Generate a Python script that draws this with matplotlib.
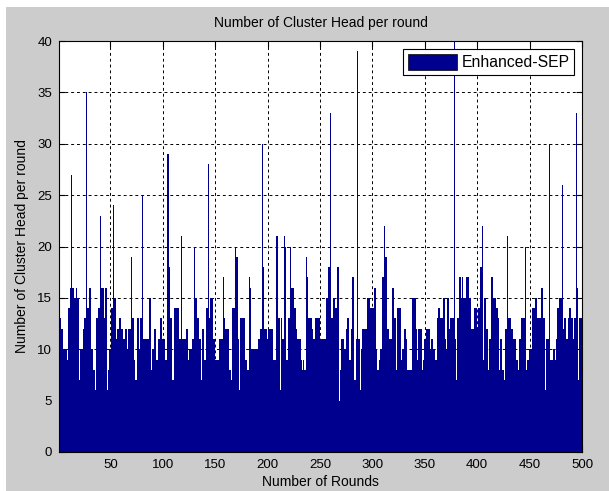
import matplotlib
matplotlib.use("Agg")
import matplotlib.pyplot as plt
from matplotlib.patches import Rectangle, Patch

# cluster heads per round (rounds 1..500)
cluster_heads = [
    13, 13, 12, 12, 10, 10, 10, 10, 9, 14,
    14, 16, 27, 16, 16, 15, 15, 16, 15, 15,
    7, 10, 10, 12, 13, 13, 35, 14, 14, 16,
    16, 10, 10, 8, 8, 6, 13, 13, 14, 14,
    23, 16, 16, 13, 16, 16, 6, 8, 10, 10,
    14, 14, 24, 15, 15, 11, 12, 12, 13, 13,
    12, 12, 11, 12, 12, 10, 12, 12, 12, 19,
    13, 13, 9, 7, 7, 13, 13, 10, 13, 13,
    25, 11, 11, 11, 11, 11, 15, 15, 8, 10,
    10, 12, 12, 9, 9, 11, 11, 13, 13, 11,
    11, 11, 9, 9, 29, 18, 13, 13, 7, 7,
    14, 14, 14, 14, 14, 11, 11, 21, 11, 11,
    11, 11, 12, 12, 9, 10, 10, 11, 11, 20,
    15, 15, 13, 13, 11, 11, 7, 12, 12, 9,
    9, 14, 14, 28, 13, 15, 15, 11, 11, 9,
    9, 9, 9, 11, 11, 11, 11, 17, 13, 12,
    12, 12, 12, 8, 8, 7, 14, 14, 20, 19,
    19, 11, 6, 13, 13, 13, 13, 13, 9, 9,
    8, 8, 17, 16, 10, 10, 10, 10, 10, 10,
    11, 11, 12, 12, 30, 18, 12, 12, 12, 11,
    12, 12, 12, 12, 12, 9, 9, 9, 21, 13,
    13, 6, 13, 11, 11, 21, 20, 9, 9, 13,
    13, 20, 16, 16, 16, 14, 14, 12, 11, 11,
    11, 9, 8, 9, 8, 8, 19, 17, 13, 13,
    13, 13, 12, 11, 11, 13, 13, 13, 13, 13,
    11, 11, 11, 11, 11, 15, 15, 18, 18, 33,
    13, 13, 15, 15, 14, 14, 18, 18, 5, 8,
    11, 11, 10, 10, 12, 13, 13, 9, 9, 12,
    17, 17, 7, 7, 11, 39, 11, 11, 6, 10,
    12, 12, 12, 12, 15, 15, 15, 14, 14, 14,
    14, 16, 16, 10, 8, 8, 9, 10, 10, 17,
    17, 22, 19, 12, 12, 11, 11, 11, 16, 16,
    13, 13, 8, 14, 14, 14, 14, 9, 10, 10,
    12, 12, 11, 8, 8, 8, 8, 15, 15, 15,
    15, 12, 9, 12, 12, 12, 12, 8, 9, 11,
    11, 12, 12, 12, 10, 11, 11, 10, 10, 9,
    9, 13, 14, 14, 13, 13, 13, 15, 15, 11,
    10, 15, 15, 12, 13, 13, 13, 40, 11, 7,
    13, 13, 17, 17, 15, 17, 15, 15, 15, 17,
    17, 17, 15, 15, 12, 12, 14, 14, 14, 12,
    14, 14, 18, 18, 22, 9, 15, 15, 12, 12,
    8, 11, 11, 17, 17, 15, 15, 14, 14, 13,
    8, 11, 11, 8, 8, 7, 12, 12, 21, 13,
    13, 13, 12, 12, 11, 11, 11, 9, 8, 11,
    11, 13, 13, 13, 13, 20, 8, 9, 9, 10,
    10, 10, 14, 14, 14, 15, 15, 13, 13, 13,
    16, 16, 13, 13, 6, 11, 11, 11, 30, 9,
    9, 9, 10, 10, 9, 11, 14, 14, 15, 15,
    26, 12, 13, 13, 11, 11, 13, 14, 14, 13,
    13, 11, 13, 13, 33, 16, 7, 13, 13, 13,
]
rounds = list(range(1, len(cluster_heads) + 1))

x_ticks = list(range(50, 501, 50))
y_ticks = list(range(0, 41, 5))

BAR_COLOR = "#00008f"
FIG_BG = "#cccccc"

W, H = 609, 491
fig = plt.figure(figsize=(W / 100, H / 100), dpi=100)
fig.patch.set_facecolor("white")
# grey matlab figure area (thin white strip top/left in the screenshot)
fig.patches.append(Rectangle((6 / W, 0), 1, 1 - 7 / H, transform=fig.transFigure,
                             facecolor=FIG_BG, edgecolor="none", zorder=-10))

ax = fig.add_axes([59 / W, 1 - 452 / H, (582 - 59) / W, (452 - 41) / H])
ax.set_facecolor("white")
ax.set_axisbelow(True)

ax.bar(rounds, cluster_heads, width=1.0, color=BAR_COLOR, linewidth=0, zorder=2)

ax.set_xlim(1, 500)
ax.set_ylim(0, 40)
ax.set_xticks(x_ticks)
ax.set_yticks(y_ticks)

# grid sits under the bars, like the matlab figure
ax.grid(True, color="black", linestyle=(0, (3, 3)), linewidth=0.7, zorder=1)
ax.tick_params(direction="in", length=4, width=0.8, top=True, right=True,
               labelsize=9.5, colors="black", pad=5)
for s in ax.spines.values():
    s.set_linewidth(0.8)
    s.set_zorder(4)

font = "Liberation Sans"
for lbl in ax.get_xticklabels() + ax.get_yticklabels():
    lbl.set_family(font)

ax.set_title("Number of Cluster Head per round", fontsize=10, family=font, pad=10)
ax.set_xlabel("Number of Rounds", fontsize=10, family=font, labelpad=3)
ax.set_ylabel("Number of Cluster Head per round", fontsize=10, family=font, labelpad=6)

handle = Patch(facecolor=BAR_COLOR, edgecolor="black", linewidth=0.5, label="Enhanced-SEP")
leg = ax.legend(handles=[handle], loc="upper right", fancybox=False,
                prop={"family": font, "size": 11.3}, handlelength=3.1, handleheight=1.2,
                borderaxespad=0.5, handletextpad=0.3, borderpad=0.3, framealpha=1)
leg.get_frame().set_edgecolor("black")
leg.get_frame().set_linewidth(0.8)
leg.set_zorder(5)

fig.savefig("out.png", dpi=100, facecolor=fig.get_facecolor())
